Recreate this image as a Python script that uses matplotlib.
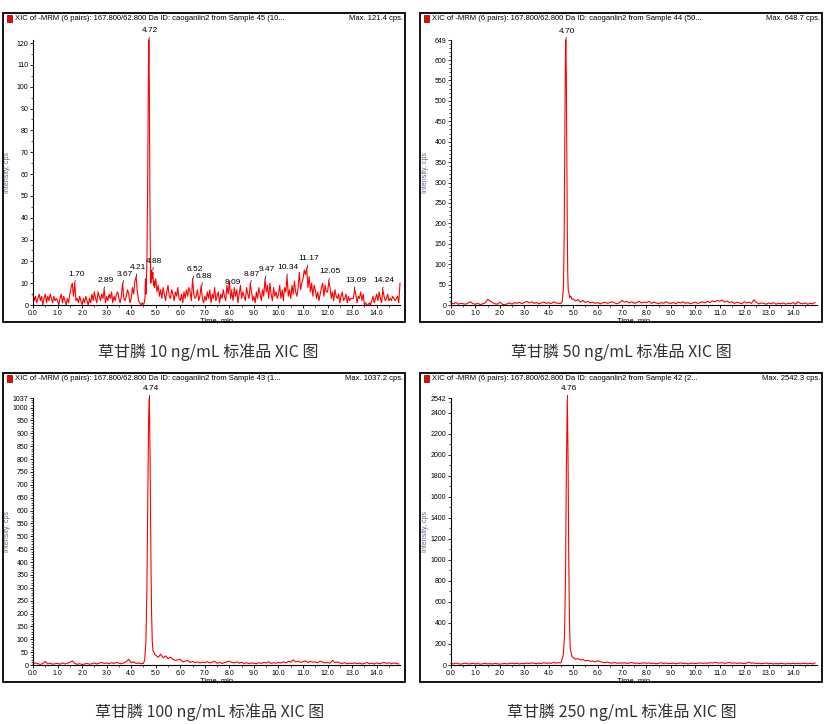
import numpy as np
import matplotlib
matplotlib.use('Agg')
import matplotlib.pyplot as plt
from matplotlib.patches import Rectangle
from matplotlib.ticker import FixedLocator, MultipleLocator, FormatStrFormatter

W, H = 829, 724
NARROW = ['Liberation Sans Narrow', 'Liberation Sans', 'DejaVu Sans']
CJK = ['Noto Sans CJK SC', 'DejaVu Sans']

# ---------------- data ----------------
# Panel 1 (10 ng/mL): baseline sampled every 0.05 min
p1_dt = 0.05
p1_base = [
    5, 2, 4, 1, 3, 5, 2, 4, 0, 3, 5, 1, 4, 2, 5, 3, 1, 4, 2, 3,
    2, 0, 3, 5, 1, 4, 2, 0, 3, 1, 5, 8, 10, 4, 10, 2, 3, 1, 4, 2,
    0, 3, 1, 4, 2, 0, 3, 1, 5, 2, 6, 3, 1, 6, 4, 2, 5, 3, 7, 1,
    4, 2, 5, 3, 6, 1, 4, 2, 5, 6, 3, 1, 4, 10, 3, 2, 4, 7, 5, 1,
    3, 8, 5, 11, 13, 6, 2, 1, 0, 1, 0, 2, 5, 20, 60, 40, 10, 16, 12, 8,
    12, 6, 9, 4, 7, 3, 8, 5, 2, 6, 9, 4, 3, 7, 5, 2, 6, 4, 8, 3,
    2, 5, 1, 6, 3, 7, 4, 8, 6, 2, 12, 5, 3, 4, 7, 2, 4, 9, 3, 1,
    4, 2, 6, 3, 7, 1, 5, 3, 8, 2, 4, 6, 1, 5, 3, 7, 4, 2, 9, 5,
    11, 3, 6, 2, 8, 4, 7, 1, 5, 9, 3, 6, 4, 2, 8, 5, 3, 10, 6, 2,
    4, 1, 6, 3, 8, 5, 2, 7, 4, 12, 6, 9, 3, 10, 5, 2, 8, 4, 6, 3,
    5, 9, 3, 7, 2, 8, 6, 13, 4, 7, 3, 9, 5, 11, 6, 4, 8, 15, 7, 10,
    12, 16, 14, 17, 8, 13, 6, 10, 4, 9, 7, 3, 6, 2, 5, 8, 10, 4, 9, 6,
    6, 11, 8, 3, 6, 2, 7, 4, 3, 5, 1, 4, 6, 2, 3, 5, 1, 4, 2, 3,
    3, 3, 7, 5, 1, 4, 3, 6, 2, 5, 0, 1, 0, 0, 1, 0, 2, 4, 1, 3,
    5, 2, 6, 3, 1, 7, 4, 2, 3, 5, 2, 3, 2, 4, 3, 2, 3, 4, 1, 10,
]
p1_peak_t = [4.53, 4.56, 4.58, 4.61, 4.64, 4.67, 4.70, 4.72, 4.74, 4.76, 4.78, 4.80, 4.83, 4.86, 4.88, 4.91, 4.93]
p1_peak_y = [1, 3, 12, 5, 20, 55, 105, 121.4, 98, 50, 24, 10, 16, 12, 15, 9, 11]
p1_labels = [1.70, 2.89, 3.67, 4.21, 4.72, 4.88, 6.52, 6.88, 8.09, 8.87, 9.47,
             10.34, 11.17, 12.05, 13.09, 14.24]

# Panel 2 (50 ng/mL): baseline every 0.1 min
p2_base = [
    5, 3, 6, 2, 4, 3, 2, 5, 8, 3,
    2, 4, 1, 3, 5, 14, 10, 6, 3, 2,
    7, 2, 0, 3, 5, 2, 6, 4, 7, 3,
    6, 9, 5, 8, 4, 6, 3, 5, 7, 4,
    6, 3, 8, 5, 4, 3, 100, 600, 60, 20,
    15, 10, 13, 7, 11, 6, 9, 5, 7, 4,
    6, 3, 5, 7, 4, 6, 8, 5, 3, 6,
    11, 7, 9, 5, 8, 4, 6, 9, 5, 7,
    6, 9, 4, 7, 5, 3, 6, 4, 8, 5,
    4, 6, 3, 7, 5, 8, 4, 6, 3, 5,
    7, 4, 6, 8, 5, 9, 6, 10, 8, 11,
    9, 12, 7, 10, 6, 8, 4, 7, 5, 3,
    8, 5, 7, 4, 13, 6, 3, 5, 4, 2,
    5, 3, 6, 2, 4, 3, 5, 2, 4, 3,
    6, 2, 8, 4, 3, 5, 2, 4, 3, 6,
]
p2_peak_t = [4.50, 4.55, 4.60, 4.63, 4.66, 4.68, 4.70, 4.72, 4.74, 4.76, 4.78, 4.80, 4.83, 4.86, 4.90, 4.95]
p2_peak_y = [4, 8, 40, 150, 420, 600, 648.7, 560, 350, 180, 70, 35, 28, 18, 22, 14]

# Panel 3 (100 ng/mL)
p3_base = [
    3, 8, 5, 2, 6, 14, 4, 7, 3, 5,
    6, 3, 8, 4, 7, 10, 16, 6, 3, 5,
    2, 4, 6, 3, 5, 8, 4, 7, 10, 6,
    8, 5, 9, 6, 10, 7, 5, 8, 14, 22,
    9, 12, 6, 8, 5, 6, 300, 1000, 200, 50,
    38, 30, 42, 28, 35, 25, 30, 22, 18, 20,
    22, 12, 15, 18, 10, 14, 9, 12, 8, 11,
    9, 13, 8, 11, 14, 7, 10, 6, 9, 12,
    15, 10, 8, 12, 7, 11, 6, 9, 5, 8,
    7, 5, 9, 6, 10, 8, 13, 6, 9, 7,
    10, 8, 12, 9, 14, 11, 20, 12, 15, 10,
    13, 16, 10, 14, 11, 12, 9, 15, 11, 8,
    10, 7, 18, 9, 12, 8, 6, 9, 5, 7,
    6, 8, 5, 7, 4, 6, 10, 5, 7, 4,
    8, 5, 7, 10, 6, 9, 5, 8, 6, 4,
]
p3_peak_t = [4.50, 4.55, 4.60, 4.64, 4.68, 4.71, 4.74, 4.77, 4.80, 4.83, 4.86, 4.89, 4.93, 4.97]
p3_peak_y = [6, 20, 90, 300, 700, 960, 1037.2, 800, 450, 200, 90, 55, 48, 40]

# Panel 4 (250 ng/mL)
p4_base = [
    15, 10, 20, 12, 8, 14, 18, 10, 12, 16,
    10, 14, 8, 12, 16, 10, 13, 9, 15, 11,
    8, 12, 15, 10, 14, 18, 12, 16, 10, 14,
    12, 18, 14, 20, 16, 12, 18, 14, 22, 16,
    20, 15, 25, 18, 22, 40, 300, 2500, 900, 100,
    70, 55, 60, 48, 52, 40, 45, 35, 38, 30,
    40, 35, 25, 22, 28, 20, 18, 24, 16, 20,
    18, 22, 15, 20, 24, 16, 19, 14, 18, 21,
    16, 20, 14, 18, 12, 17, 21, 15, 19, 13,
    15, 18, 12, 16, 20, 14, 17, 11, 15, 18,
    14, 17, 20, 15, 19, 16, 22, 18, 25, 20,
    18, 22, 16, 20, 24, 17, 21, 15, 19, 16,
    14, 18, 28, 16, 20, 13, 17, 12, 15, 19,
    12, 15, 10, 14, 11, 16, 13, 10, 14, 12,
    16, 12, 15, 11, 18, 14, 12, 16, 10, 20,
]
p4_peak_t = [4.50, 4.55, 4.60, 4.65, 4.69, 4.72, 4.76, 4.79, 4.82, 4.85, 4.88, 4.92, 4.96]
p4_peak_y = [20, 60, 100, 300, 900, 1800, 2542.3, 2000, 1000, 400, 160, 110, 80]

sample_ids = ['45 (10...', '44 (50...', '43 (1...', '42 (2...']
max_texts = ['Max. 121.4 cps.', 'Max. 648.7 cps.', 'Max. 1037.2 cps.', 'Max. 2542.3 cps.']
captions = ['草甘膦 10 ng/mL 标准品 XIC 图', '草甘膦 50 ng/mL 标准品 XIC 图',
            '草甘膦 100 ng/mL 标准品 XIC 图', '草甘膦 250 ng/mL 标准品 XIC 图']
yticks_major = [list(range(0, 121, 10)),
                list(range(0, 601, 50)) + [649],
                list(range(0, 1001, 50)) + [1037],
                list(range(0, 2401, 200)) + [2542]]
yticks_minor = [5, 10, 10, 100]
xticks = np.arange(0, 15, 1.0)


def build(dt, base, pk_t, pk_y):
    t = np.arange(len(base)) * dt
    b = np.asarray(base, float)
    keep = (t < pk_t[0] - 1e-9) | (t > pk_t[-1] + 1e-9)
    tt = np.concatenate([t[keep], pk_t])
    yy = np.concatenate([b[keep], pk_y])
    o = np.argsort(tt)
    return tt[o], yy[o]


traces = [build(p1_dt, p1_base, p1_peak_t, p1_peak_y),
          build(0.1, p2_base, p2_peak_t, p2_peak_y),
          build(0.1, p3_base, p3_peak_t, p3_peak_y),
          build(0.1, p4_base, p4_peak_t, p4_peak_y)]
labels = [p1_labels, [4.70], [4.74], [4.76]]

# ---------------- layout (pixels) ----------------
boxes = [(3, 13, 405, 322), (420, 13, 822, 322), (3, 373, 405, 682), (420, 373, 822, 682)]
axes_px = [(33, 40, 400, 305), (451, 40, 817, 305), (33, 398, 400, 665), (451, 398, 817, 665)]
caption_xy = [(208, 352), (621, 352), (210, 712), (622, 712)]

fig = plt.figure(figsize=(W / 100, H / 100), dpi=100)
fig.patch.set_facecolor('white')


def frac_rect(x0, y0, x1, y1):
    return [x0 / W, 1 - y1 / H, (x1 - x0) / W, (y1 - y0) / H]


for i in range(4):
    bx0, by0, bx1, by1 = boxes[i]
    fig.patches.append(Rectangle((bx0 / W, 1 - by1 / H), (bx1 - bx0) / W, (by1 - by0) / H,
                                 transform=fig.transFigure, fill=False, edgecolor='black',
                                 linewidth=1.3))
    # red legend square
    fig.patches.append(Rectangle(((bx0 + 4) / W, 1 - (by0 + 9) / H), 5 / W, 7 / H,
                                 transform=fig.transFigure, facecolor='#ff0000',
                                 edgecolor='#600000', linewidth=0.5))
    fig.text((bx0 + 12) / W, 1 - (by0 + 5) / H,
             'XIC of -MRM (6 pairs): 167.800/62.800 Da ID: caoganlin2 from Sample ' + sample_ids[i],
             family=NARROW, fontsize=5.5, va='center', ha='left', color='black')
    fig.text((bx1 - 2) / W, 1 - (by0 + 5) / H, max_texts[i],
             family=NARROW, fontsize=5.5, va='center', ha='right', color='black')
    cx, cy = caption_xy[i]
    fig.text(cx / W, 1 - cy / H, captions[i], family=CJK, fontsize=11.5,
             ha='center', va='center', color='#333333')

    t, y = traces[i]
    ax = fig.add_axes(frac_rect(*axes_px[i]))
    ax.plot(t, y, color='#ff0000', linewidth=0.8, clip_on=False)
    ytop = max(y.max(), yticks_major[i][-1])
    ax.set_xlim(0, 14.95 if i % 2 == 0 else 14.98)
    ax.set_ylim(0, ytop)
    for s in ['top', 'right']:
        ax.spines[s].set_visible(False)
    for s in ['left', 'bottom']:
        ax.spines[s].set_linewidth(0.8)
    ax.xaxis.set_major_locator(FixedLocator(xticks))
    ax.xaxis.set_major_formatter(FormatStrFormatter('%.1f'))
    ax.xaxis.set_minor_locator(MultipleLocator(0.5))
    ax.yaxis.set_major_locator(FixedLocator(yticks_major[i]))
    ax.yaxis.set_major_formatter(FormatStrFormatter('%d'))
    ax.yaxis.set_minor_locator(MultipleLocator(yticks_minor[i]))
    ax.tick_params(which='major', length=2.5, width=0.6, labelsize=5, pad=1)
    ax.tick_params(which='minor', length=1.5, width=0.5)
    for lab in ax.get_xticklabels() + ax.get_yticklabels():
        lab.set_family(NARROW)
    ax.set_xlabel('Time, min', family=NARROW, fontsize=5.5, labelpad=0)
    ax.set_ylabel('Intensity, cps', family=NARROW, fontsize=5, color='#5a6a80', labelpad=4)
    ax.yaxis.set_label_coords(-22 / (axes_px[i][2] - axes_px[i][0]), 0.5)

    for lt in labels[i]:
        m = (t > lt - 0.06) & (t < lt + 0.06)
        py = y[m].max()
        ax.annotate(f'{lt:.2f}', xy=(lt, py), xytext=(1, 4), textcoords='offset points',
                    ha='center', va='bottom', fontsize=6, family=NARROW,
                    annotation_clip=False,
                    arrowprops=dict(arrowstyle='-', color='black', lw=0.5,
                                    shrinkA=0, shrinkB=0))

fig.savefig('out.png', dpi=100)
